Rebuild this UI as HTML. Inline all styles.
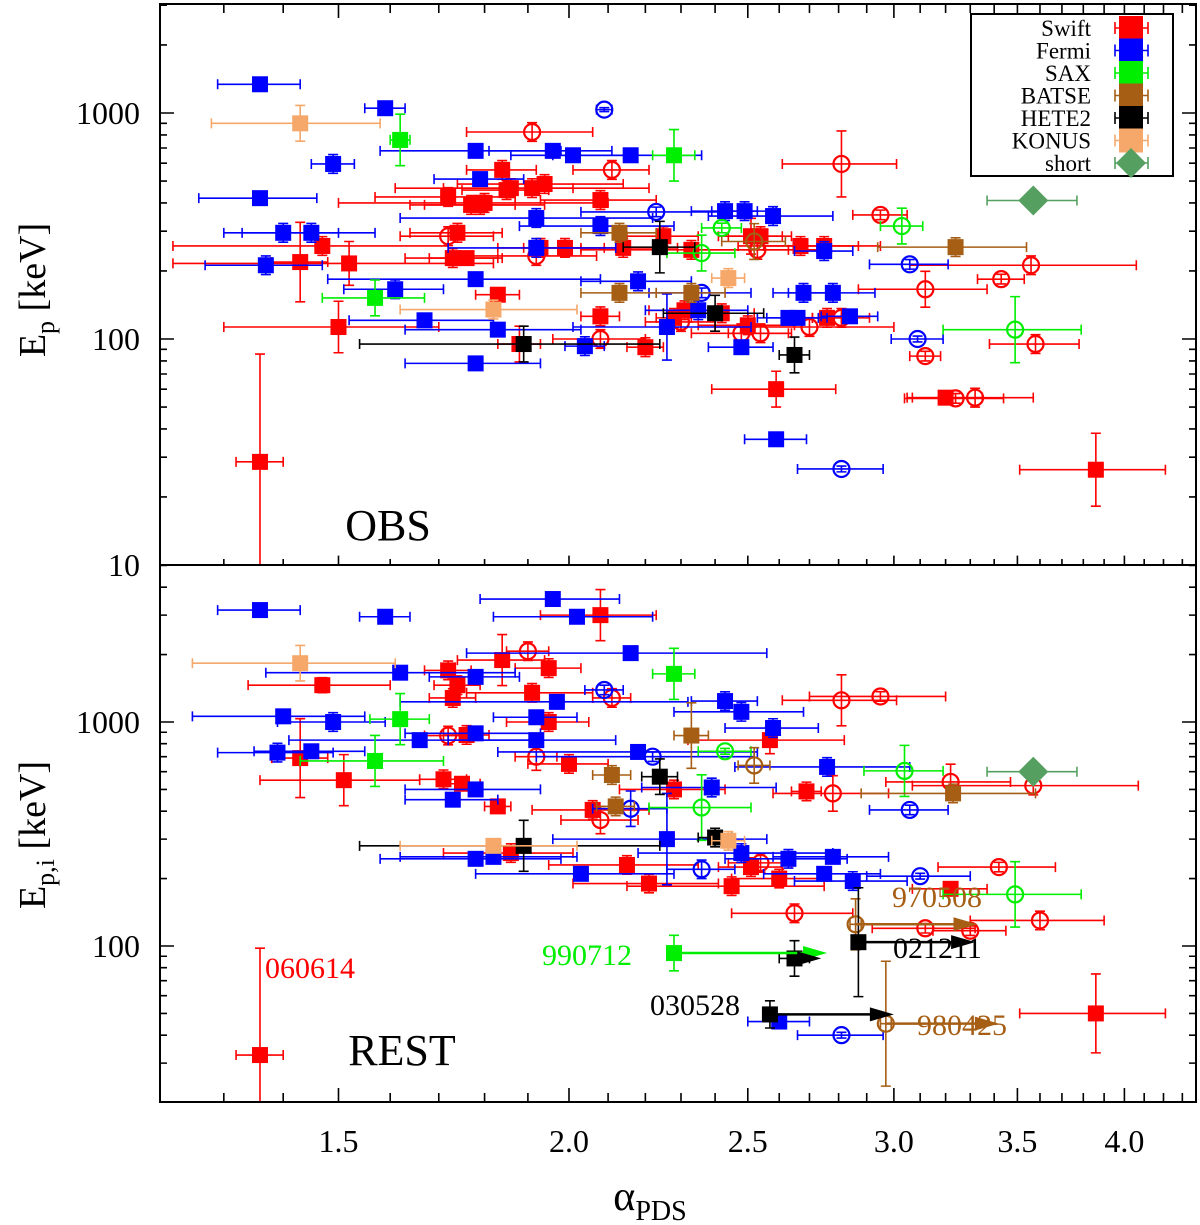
<!DOCTYPE html>
<html><head><meta charset="utf-8"><style>
html,body{margin:0;padding:0;background:#fff}
svg{display:block;font-family:"Liberation Serif",serif}
</style></head><body>
<svg id="chart" width="1200" height="1225" viewBox="0 0 1200 1225" xmlns="http://www.w3.org/2000/svg">
<defs>
<clipPath id="clipTop"><rect x="160" y="4" width="1036" height="561"/></clipPath>
<clipPath id="clipBot"><rect x="160" y="565" width="1036" height="537"/></clipPath>
</defs>
<rect x="0" y="0" width="1200" height="1225" fill="#fff"/>
<g id="marksTop" clip-path="url(#clipTop)"></g>
<g id="marksBot" clip-path="url(#clipBot)"></g>
<g id="axes"></g>
<text transform="translate(45,290) rotate(-90)" text-anchor="middle" font-size="38">E<tspan font-size="26" dy="9">p</tspan><tspan dy="-9"> [keV]</tspan></text>
<text transform="translate(45,835) rotate(-90)" text-anchor="middle" font-size="38">E<tspan font-size="26" dy="9">p,i</tspan><tspan dy="-9"> [keV]</tspan></text>
<text x="650" y="1210" text-anchor="middle" font-size="42">α<tspan font-size="28" dy="10">PDS</tspan></text>
<text x="388" y="540" text-anchor="middle" font-size="44">OBS</text>
<text x="402" y="1065" text-anchor="middle" font-size="44">REST</text>
<g font-size="30">
<text x="265" y="978" fill="#ff0000">060614</text>
<text x="632" y="965" text-anchor="end" fill="#00ee00">990712</text>
<text x="893" y="958" fill="#000">021211</text>
<text x="740" y="1015" text-anchor="end" fill="#000">030528</text>
<text x="892" y="907" fill="#a65e14">970508</text>
<text x="917" y="1035" fill="#a65e14">980425</text>
</g>
<g id="legend"></g>
</svg>
<script>
// ---- data: rows are [alpha, Ep, alphaHalfErr, EpErrFactor, open(1)/filled(0)]
const topSwift=[[1.36,28.6,.04,3,0],[1.43,219,.05,1.5,0],[1.47,258,.25,1.1,0],[1.50,113,.2,1.3,0],[1.52,216,.3,1.25,0],[1.72,425,.15,1.1,0],[1.73,228,.1,1.1,0],[1.74,295,.1,1.1,0],[1.76,228,.08,1.05,0],[1.77,392,.1,1.1,0],[1.79,392,.15,1.1,0],[1.80,400,.3,1.1,0],[1.84,560,.08,1.1,0],[1.85,456,.1,1.1,0],[1.86,465,.15,1.1,0],[1.88,95,.05,1.2,0],[1.91,465,.3,1.1,0],[1.93,253,.1,1.1,0],[1.94,485,.2,1.1,0],[1.99,253,.1,1.1,0],[2.08,412,.15,1.1,0],[2.08,126,.05,1.1,0],[2.14,253,.15,1.1,0],[2.20,92,.05,1.1,0],[2.25,285,.1,1.1,0],[2.28,124,.05,1.1,0],[2.31,134,.1,1.1,0],[2.33,248,.3,1.1,0],[2.42,130,.1,1.1,0],[2.50,115,.15,1.1,0],[2.51,285,.1,1.2,0],[2.54,285,.1,1.1,0],[2.59,60,.2,1.2,0],[2.67,258,.2,1.1,0],[2.75,258,.2,1.1,0],[2.76,124,.05,1.1,0],[3.20,55,.15,1.05,0],[3.86,26.4,.35,1.45,0],[1.83,157,.05,1.05,0],
[1.91,824,.15,1.1,1],[2.11,560,.1,1.1,1],[1.72,285,.1,1.1,1],[1.92,233,.15,1.1,1],[2.30,119,.1,1.1,1],[2.08,100,.12,1.1,1],[2.48,106,.15,1.1,1],[2.54,106,.1,1.1,1],[2.81,595,.2,1.4,1],[2.95,354,.1,1.05,1],[3.12,166,.25,1.2,1],[3.43,184,.1,1.05,1],[3.56,212,.5,1.1,1],[3.58,95,.2,1.1,1],[3.24,54.6,.2,1.05,1],[3.32,55,.25,1.1,1],[2.70,113,.3,1.1,1],[2.53,248,.2,1.1,1],[2.81,124,.1,1.1,1],[3.12,84,.06,1.05,1]];
const topFermi=[[1.36,1340,.07,1.05,0],[1.59,1050,.04,1.03,0],[1.36,420,.1,1.05,0],[1.49,595,.04,1.1,0],[1.40,295,.1,1.1,0],[1.37,212,.1,1.1,0],[1.45,295,.12,1.1,0],[1.78,680,.2,1.05,0],[1.79,510,.1,1.05,0],[1.78,78,.15,1.05,0],[1.67,121,.15,1.05,0],[1.61,166,.1,1.1,0],[1.78,184,.3,1.05,0],[1.83,110,.2,1.05,0],[1.92,253,.2,1.1,0],[1.92,343,.3,1.1,0],[1.96,680,.15,1.05,0],[2.01,650,.15,1.05,0],[2.16,650,.2,1.05,0],[2.18,180,.15,1.1,0],[2.26,113,.25,1.4,0],[2.43,368,.1,1.1,0],[2.49,368,.1,1.1,0],[2.58,350,.2,1.1,0],[2.48,92,.1,1.05,0],[2.63,124,.1,1.05,0],[2.66,124,.1,1.05,0],[2.68,160,.1,1.1,0],[2.75,245,.1,1.1,0],[2.78,160,.15,1.1,0],[2.84,126,.1,1.05,0],[2.59,36,.1,1.05,0],[2.35,134,.15,1.1,0],[2.04,93,.05,1.1,0],[2.08,316,.2,1.1,0],
[2.09,1035,.02,1.02,1],[2.23,365,.2,1.05,1],[3.06,214,.15,1.05,1],[3.09,100,.1,1.03,1],[2.81,26.6,.15,1.03,1],[2.36,160,.15,1.05,1]];
const topSax=[[1.62,760,.02,1.3,0],[1.57,152,.1,1.2,0],[2.28,650,.06,1.3,0],[2.36,240,.1,1.2,1],[2.42,310,.06,1.05,1],[3.03,316,.08,1.2,1],[3.49,110,.3,1.4,1]];
const topBatse=[[2.13,295,.1,1.1,0],[2.13,160,.1,1.1,0],[2.33,160,.1,1.1,0],[3.24,255,.3,1.1,0],[2.52,270,.1,1.2,1]];
const topHete=[[1.89,95,.35,1.2,0],[2.24,255,.1,1.3,0],[2.40,130,.15,1.2,0],[2.65,85,.05,1.2,0]];
const topKonus=[[1.43,900,.15,1.2,0],[1.82,135,.2,1.1,0],[2.44,186,.05,1.1,0]];
const topShort=[[3.57,410,.2,1.05,0]];

const botSwift=[[2.08,3000,.15,1.3,0],[1.47,1460,.13,1.08,0],[1.72,1700,.05,1.1,0],[1.84,1890,.1,1.3,0],[1.95,1740,.08,1.1,0],[1.74,1460,.05,1.1,0],[1.73,1280,.05,1.1,0],[1.91,1350,.15,1.1,0],[1.95,1000,.1,1.1,0],[1.76,875,.05,1.1,0],[1.43,690,.05,1.5,0],[1.51,550,.15,1.3,0],[1.71,555,.05,1.1,0],[1.75,530,.04,1.05,0],[1.83,420,.03,1.05,0],[2.00,650,.1,1.1,0],[2.06,405,.15,1.1,0],[1.86,260,.15,1.1,0],[2.15,230,.2,1.1,0],[2.21,190,.2,1.1,0],[2.28,500,.15,1.1,0],[2.57,830,.25,1.15,0],[2.69,490,.05,1.1,0],[2.51,225,.1,1.1,0],[2.60,200,.15,1.1,0],[2.45,185,.3,1.1,0],[3.22,180,.15,1.05,0],[3.86,50,.35,1.5,0],[1.36,32.6,.04,3,0],
[1.90,2070,.05,1.1,1],[2.11,1280,.05,1.1,1],[1.72,870,.05,1.1,1],[1.92,700,.05,1.15,1],[2.08,365,.1,1.15,1],[2.81,1250,.2,1.3,1],[2.95,1300,.25,1.05,1],[3.22,540,.25,1.2,1],[3.57,520,.5,1.1,1],[2.78,480,.2,1.2,1],[2.54,235,.1,1.1,1],[3.42,225,.25,1.05,1],[2.65,140,.2,1.1,1],[3.12,120,.2,1.05,1],[3.30,117,.15,1.05,1],[3.60,130,.3,1.1,1]];
const botFermi=[[1.36,3160,.07,1.03,0],[1.59,2950,.05,1.03,0],[1.96,3540,.17,1.03,0],[2.02,2950,.2,1.05,0],[1.62,1660,.25,1.05,0],[1.78,1590,.1,1.05,0],[2.16,2030,.4,1.05,0],[1.97,1230,.35,1.05,0],[1.40,1060,.15,1.05,0],[1.49,1000,.1,1.1,0],[1.92,1050,.1,1.05,0],[1.66,830,.25,1.05,0],[1.78,890,.15,1.05,0],[1.92,830,.2,1.05,0],[1.39,730,.1,1.1,0],[1.45,740,.1,1.05,0],[1.78,500,.15,1.05,0],[1.73,450,.1,1.05,0],[2.18,735,.35,1.05,0],[2.26,300,.3,1.6,0],[1.78,245,.2,1.05,0],[1.82,250,.2,1.05,0],[2.03,210,.25,1.05,0],[2.43,1240,.1,1.1,0],[2.48,1110,.2,1.1,0],[2.58,940,.15,1.1,0],[2.76,630,.3,1.1,0],[2.39,510,.2,1.1,0],[2.48,260,.3,1.1,0],[2.63,245,.2,1.1,0],[2.78,250,.2,1.05,0],[2.75,210,.2,1.05,0],[2.85,195,.2,1.1,0],[2.60,46,.1,1.05,0],
[2.09,1390,.05,1.05,1],[2.22,700,.3,1.05,1],[2.16,410,.1,1.2,1],[2.36,220,.1,1.1,1],[3.06,405,.15,1.05,1],[3.10,205,.2,1.03,1],[2.81,40,.15,1.03,1]];
const botSax=[[1.62,1030,.06,1.3,0],[1.57,670,.14,1.3,0],[2.28,1640,.06,1.3,0],[2.28,93,.02,1.2,0],[2.43,740,.08,1.03,1],[2.36,415,.15,1.4,1],[3.04,605,.15,1.3,1],[3.49,170,.3,1.4,1]];
const botBatse=[[2.11,580,.05,1.1,0],[2.12,420,.05,1.1,0],[2.33,870,.05,1.4,0],[3.23,480,.35,1.1,0],[2.52,640,.05,1.2,1],[2.86,125,.02,1.3,1],[2.97,45,.02,1.9,1]];
const botHete=[[2.24,570,.05,1.2,0],[1.89,280,.35,1.3,0],[2.40,305,.05,1.1,0],[2.87,104,.02,1.75,0],[2.65,88,.05,1.2,0],[2.57,49.5,.02,1.15,0]];
const botKonus=[[1.43,1830,.18,1.2,0],[1.82,280,.2,1.05,0],[2.44,295,.05,1.1,0]];
const botShort=[[3.57,600,.2,1.05,0]];
// lower limits on alpha: [alpha, Ep, alphaArrowEnd, series]
const limitPoints=[[2.28,93,2.76,'SAX'],[2.87,104,3.32,'HETE2'],[2.57,49.5,3.00,'HETE2'],[2.86,125,3.33,'BATSE'],[2.97,45,3.42,'BATSE'],[2.65,88,2.74,'HETE2']];
const xTickLabels=['1.5','2.0','2.5','3.0','3.5','4.0'];
const yTopTickLabels=['10','100','1000'];
const yBotTickLabels=['100','1000'];
const legendLabels=['Swift','Fermi','SAX','BATSE','HETE2','KONUS','short'];

const colors={Swift:'#ff0000',Fermi:'#0000ff',SAX:'#00ee00',BATSE:'#a65e14',HETE2:'#000000',KONUS:'#f5a86a',short:'#55a060'};
const L=160,R=1196,T=4,MID=565,B=1102;
const xS=a=>569+1845*Math.log10(a/2);
const yTop=e=>113+226*(3-Math.log10(e));
const yBot=e=>722+224*(3-Math.log10(e));
const NS='http://www.w3.org/2000/svg';
const marksTop=document.getElementById('marksTop'),marksBot=document.getElementById('marksBot'),axes=document.getElementById('axes'),legend=document.getElementById('legend');
function mk(tag,attrs,parent){const el=document.createElementNS(NS,tag);for(const k in attrs)el.setAttribute(k,attrs[k]);parent.appendChild(el);return el;}

function drawPoint(row,ys,color,series,panel,shape,parent){
  const [a,e,xe,f,open]=row;
  const g=mk('g',{},parent);
  
  
  const cx=xS(a),cy=ys(e),x1=xS(Math.max(1.1,a-xe)),x2=xS(a+xe),y1=ys(e/f),y2=ys(e*f);
  const s={stroke:color,'stroke-width':1.6,fill:'none'};
  mk('path',Object.assign({d:`M${x1},${cy}H${x2}M${x1},${cy-5}v10M${x2},${cy-5}v10M${cx},${y1}V${y2}M${cx-5},${y1}h10M${cx-5},${y2}h10`},s),g);
  if(shape==='diamond'){mk('path',{d:`M${cx},${cy-15}L${cx+15},${cy}L${cx},${cy+15}L${cx-15},${cy}Z`,fill:color},g);}
  else if(open){mk('circle',{cx,cy,r:8,fill:'none',stroke:color,'stroke-width':2.2},g);}
  else{mk('rect',{x:cx-8,y:cy-8,width:16,height:16,fill:color},g);}
}
const topSets=[['Swift',topSwift],['Fermi',topFermi],['SAX',topSax],['BATSE',topBatse],['HETE2',topHete],['KONUS',topKonus],['short',topShort]];
const botSets=[['Swift',botSwift],['Fermi',botFermi],['SAX',botSax],['BATSE',botBatse],['HETE2',botHete],['KONUS',botKonus],['short',botShort]];
topSets.forEach(([n,arr])=>arr.forEach(r=>drawPoint(r,yTop,colors[n],n,'obs',n==='short'?'diamond':'sq',marksTop)));
botSets.forEach(([n,arr])=>arr.forEach(r=>drawPoint(r,yBot,colors[n],n,'rest',n==='short'?'diamond':'sq',marksBot)));
limitPoints.forEach(([a,e,aEnd,n])=>{
  const c=colors[n],x1=xS(a),x2=xS(aEnd),y=yBot(e);
  const p=mk('path',{d:`M${x1},${y}H${x2-20}`,stroke:c,'stroke-width':2.5,fill:'none'},marksBot);
  
  
  const h=mk('path',{d:`M${x2-24},${y-7}L${x2},${y}L${x2-24},${y+7}Z`,fill:c},marksBot);
  
  
});

// frame
const fr=mk('path',{d:`M${L},${T}H${R}V${B}H${L}ZM${L},${MID}H${R}`,stroke:'#000','stroke-width':2,fill:'none'},axes);


// x ticks
let d='';
for(let i=13;i<=43;i++){const a=i/10,x=xS(a);if(x<=L||x>=R)continue;const major=(i%5===0);const len=major?14:9;d+=`M${x},${B}v${-len}M${x},${T}v${len}M${x},${MID}v${-len/1.5}`;}
xTickLabels.forEach(t=>{const tx=mk('text',{x:xS(parseFloat(t)),y:1152,'text-anchor':'middle','font-size':32},axes);tx.textContent=t;});
// y ticks
function yTicks(ys,lo,hi,labels,top,bot){
  for(let dec=lo;dec<hi;dec*=10){for(let m=1;m<10;m++){const v=dec*m,y=ys(v);if(y<top-0.5||y>bot+0.5)continue;const len=m===1?14:7;d+=`M${L},${y}h${len}M${R},${y}h${-len}`;}}
  labels.forEach(t=>{const y=ys(parseFloat(t));const tx=mk('text',{x:140,y:y+11,'text-anchor':'end','font-size':32},axes);tx.textContent=t;});
}
yTicks(yTop,10,10000,yTopTickLabels,T,MID);
yTicks(yBot,10,10000,yBotTickLabels,MID,B);
const tk=mk('path',{d,stroke:'#000','stroke-width':1.6,fill:'none'},axes);



// legend
const lb=mk('rect',{x:971,y:14,width:202,height:162,fill:'#fff',stroke:'#000','stroke-width':2},legend);


legendLabels.forEach((n,i)=>{
  const y=28+i*22.5,c=colors[n];
  const g=mk('g',{},legend);
  
  
  const t=mk('text',{x:1091,y:y+8,'text-anchor':'end','font-size':23},g);t.textContent=n;
  mk('path',{d:`M1115,${y}H1148M1115,${y-6}v12M1148,${y-6}v12`,stroke:c,'stroke-width':1.6,fill:'none'},g);
  if(n==='short')mk('path',{d:`M1131,${y-15}L1146,${y}L1131,${y+15}L1116,${y}Z`,fill:c},g);
  else mk('rect',{x:1119,y:y-12,width:24,height:24,fill:c},g);
});
</script>
</body></html>
